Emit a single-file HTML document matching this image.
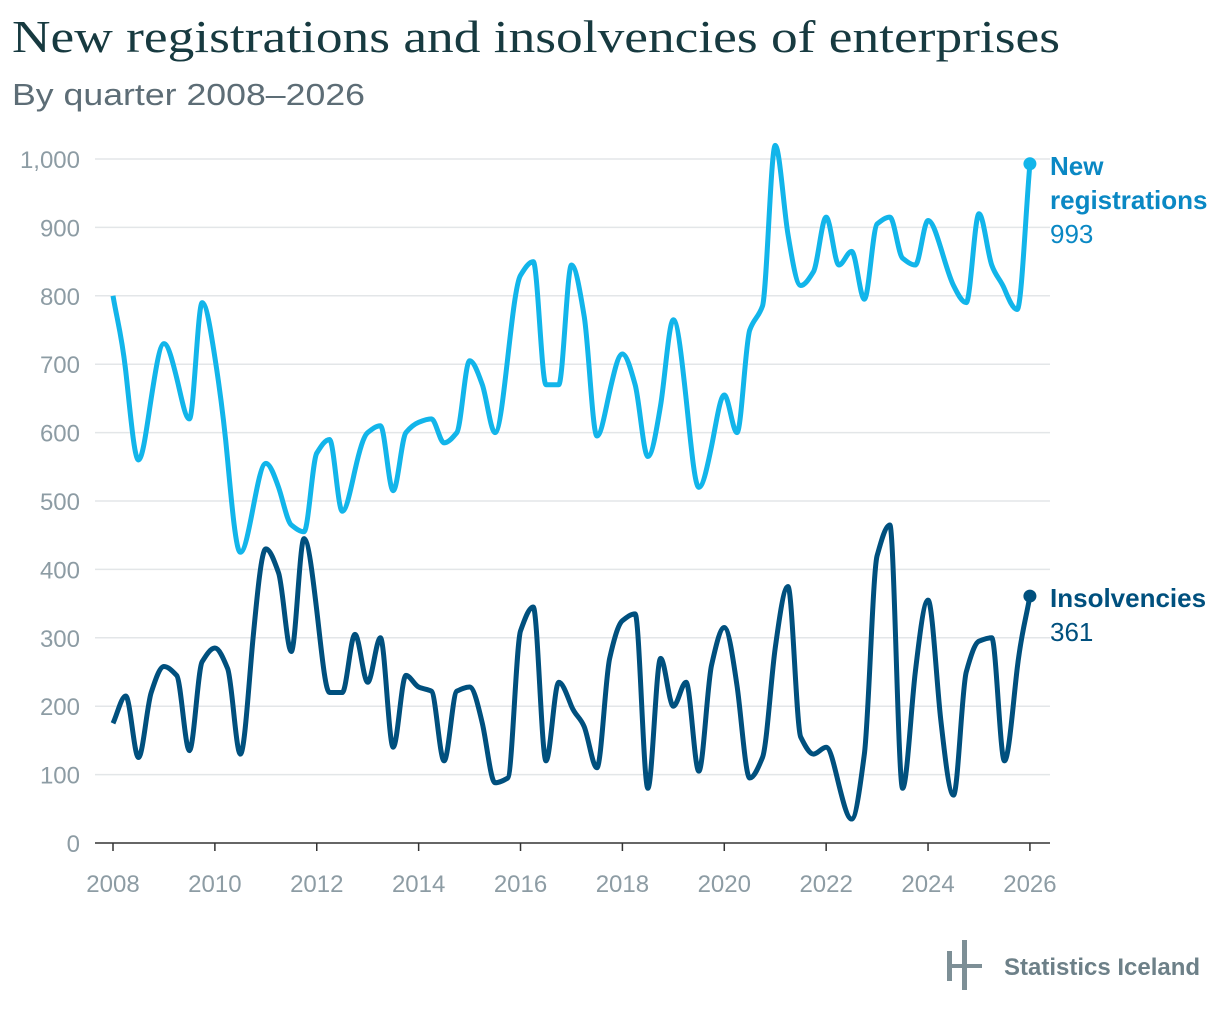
<!DOCTYPE html>
<html><head><meta charset="utf-8"><style>
body{margin:0;background:#fff;width:1220px;height:1016px;overflow:hidden}
svg text{font-family:"Liberation Sans",sans-serif}
</style></head><body>
<svg id="chart" width="1220" height="1016">
<text x="12" y="52" font-size="46" textLength="1048" lengthAdjust="spacingAndGlyphs" fill="#173a40" style="font-family:'Liberation Serif',serif">New registrations and insolvencies of enterprises</text>
<text x="12" y="105" font-size="31" textLength="353" lengthAdjust="spacingAndGlyphs" fill="#5d6d76">By quarter 2008–2026</text>
<g id="grid"></g><g id="series"></g>
<g>
<rect x="947" y="951" width="5" height="30" fill="#7d8f96"/><rect x="962" y="940" width="5" height="50" fill="#7d8f96"/>
<rect x="947" y="964" width="35" height="4" fill="#7d8f96"/>
<text x="1004" y="975" font-size="24" fill="#6d8088" font-weight="bold">Statistics Iceland</text></g>
</svg>
<script>
const yTicks=[0,100,200,300,400,500,600,700,800,900,1000];
const xTicks=[2008,2010,2012,2014,2016,2018,2020,2022,2024,2026];
const startYear=2008;
const registrations=[800,690,560,650,730,680,620,790,710,560,425,490,555,520,465,455,570,590,485,545,600,610,515,600,615,620,585,600,705,670,600,710,830,850,670,670,845,770,595,660,715,670,565,640,765,650,520,580,655,600,750,785,1020,890,815,835,915,845,865,795,905,915,855,845,910,870,815,790,920,845,810,780,993];
const insolvencies=[175,215,125,220,258,245,135,265,285,255,130,300,430,395,280,445,340,220,220,305,235,300,140,245,228,222,120,222,228,175,88,95,310,345,120,235,200,170,110,270,325,335,80,270,200,235,105,260,315,230,95,125,285,375,155,130,140,85,35,130,420,465,80,250,355,180,70,250,295,300,120,255,361];
const X=t=>113+(t-2008)*50.94, Y=v=>843-v*0.684;
const NS='http://www.w3.org/2000/svg';
const grid=document.getElementById('grid'), ser=document.getElementById('series');
function mk(tag,at,p){const e=document.createElementNS(NS,tag);for(const k in at)e.setAttribute(k,at[k]);p.appendChild(e);return e;}
yTicks.forEach(v=>{
 if(v>0){const l=mk('line',{x1:95,x2:1050,y1:Y(v),y2:Y(v),stroke:'#e3e6e8','stroke-width':1.5},grid);
 
 }
 const t=mk('text',{x:80,y:Y(v)+9,'font-size':24,fill:'#8d9ca4','text-anchor':'end'},grid);t.textContent=v.toLocaleString('en-US');
 
 
});
const ax=mk('line',{x1:95,x2:1050,y1:843,y2:843,stroke:'#333','stroke-width':1.5},grid);


xTicks.forEach(y=>{
 mk('line',{x1:X(y),x2:X(y),y1:843,y2:851,stroke:'#333','stroke-width':1.5},grid);
 const t=mk('text',{x:X(y),y:892,'font-size':24,fill:'#8d9ca4','text-anchor':'middle'},grid);t.textContent=y;
 
 
});
function path(d){
 const p=d.map((v,i)=>[X(startYear+i/4),Y(v)]);const n=p.length;
 const h=p[1][0]-p[0][0];const s=[];for(let i=0;i<n-1;i++)s.push((p[i+1][1]-p[i][1])/h);
 const m=new Array(n);m[0]=s[0];m[n-1]=s[n-2];
 for(let i=1;i<n-1;i++){if(s[i-1]*s[i]<=0)m[i]=0;else{const a=s[i-1],b=s[i];m[i]=Math.sign(a)*Math.min(Math.abs(a),Math.abs(b),0.5*Math.abs(a+b))*1.5;
  const lim=3*Math.min(Math.abs(a),Math.abs(b));if(Math.abs(m[i])>lim)m[i]=Math.sign(a)*lim;}}
 let str='M'+p[0];
 for(let i=0;i<n-1;i++){const c1=[p[i][0]+h/3,p[i][1]+m[i]*h/3],c2=[p[i+1][0]-h/3,p[i+1][1]-m[i+1]*h/3];str+='C'+c1+' '+c2+' '+p[i+1];}
 return str;}
function draw(d,col,name,lc,lines){
 const p=mk('path',{d:path(d),fill:'none',stroke:col,'stroke-width':5,'stroke-linejoin':'round'},ser);
 
 
 const last=d[d.length-1],lx=X(startYear+(d.length-1)/4),ly=Y(last);
 const c=mk('circle',{cx:lx,cy:ly,r:6.5,fill:col},ser);
 
 
 const t=mk('text',{x:1050,y:ly+11,'font-size':26,fill:lc},ser);
 
 
 lines.forEach((s,i)=>{const ts=mk('tspan',{x:1050,dy:i?34:0,'font-weight':'bold'},t);ts.textContent=s;});
 const ts=mk('tspan',{x:1050,dy:34},t);ts.textContent=last;
}
draw(registrations,'#12b5ea','new-registrations','#0a88c4',['New','registrations']);
draw(insolvencies,'#00507e','insolvencies','#00507e',['Insolvencies']);
</script>
</body></html>
